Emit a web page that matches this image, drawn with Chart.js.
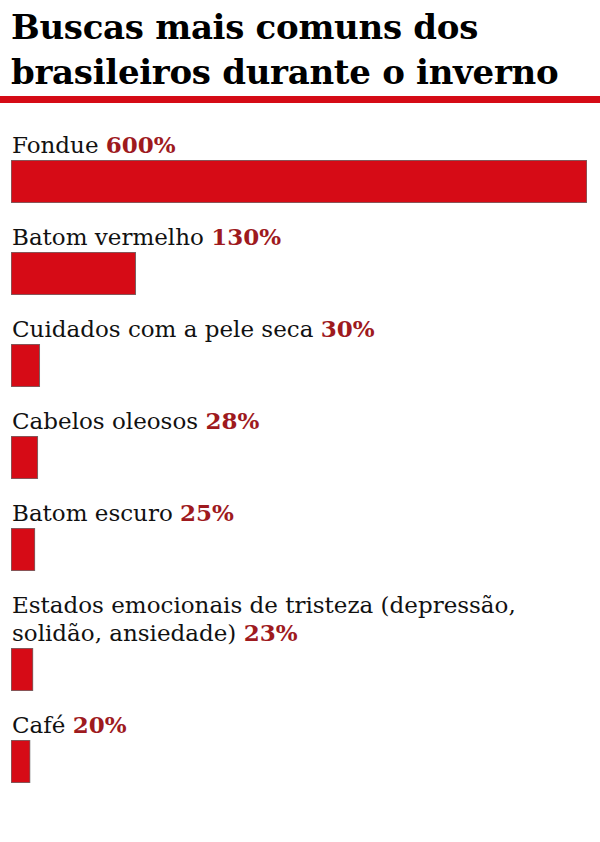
<!DOCTYPE html>
<html>
<head>
<meta charset="utf-8">
<script src="https://cdn.jsdelivr.net/npm/chart.js@4"></script>
<style>
  body { margin: 0; width: 600px; height: 842px; background: #fff; overflow: hidden; font-family: "DejaVu Serif", serif; }
  h1 { margin: 0; padding: 5px 0 0 11px; font-size: 34px; line-height: 45px; font-weight: bold; color: #000; letter-spacing: -0.3px; }
  .rule { position: absolute; left: 0; top: 96px; width: 600px; height: 7px; background: #d50b16; }
  #rows { position: absolute; left: 0; top: 111px; width: 600px; }
  .label { margin: 20px 0 1px 12px; width: 580px; font-size: 23px; line-height: 28px; color: #111; }
  .label b { color: #9e1a1e; }
  .bar { position: relative; margin-left: 11px; width: 576px; height: 43px; }
</style>
</head>
<body>
<h1>Buscas mais comuns dos brasileiros durante o inverno</h1>
<div class="rule"></div>
<div id="rows"></div>
<script>
// --- data ---
const categories = ['Fondue', 'Batom vermelho', 'Cuidados com a pele seca', 'Cabelos oleosos', 'Batom escuro',
    'Estados emocionais de tristeza (depressão, solidão, ansiedade)', 'Café'];
const values = [600, 130, 30, 28, 25, 23, 20];
const axisMax = 600;

const rowsEl = document.getElementById('rows');

categories.forEach((name, i) => {
    const label = document.createElement('div');
    label.className = 'label';
    label.innerHTML = `${name} <b>${values[i]}%</b>`;
    rowsEl.appendChild(label);

    const wrap = document.createElement('div');
    wrap.className = 'bar';
    const canvas = document.createElement('canvas');
    wrap.appendChild(canvas);
    rowsEl.appendChild(wrap);

    new Chart(canvas.getContext('2d'), {
        type: 'bar',
        data: {
            labels: [name],
            datasets: [{
                data: [values[i]],
                backgroundColor: '#d60b16',
                borderColor: '#6e6e6e',
                borderWidth: 1,
                borderSkipped: false,
                barPercentage: 1,
                categoryPercentage: 1
            }]
        },
        options: {
            indexAxis: 'y',
            responsive: true,
            maintainAspectRatio: false,
            animation: false,
            layout: { padding: 0 },
            scales: {
                x: { min: 0, max: axisMax, display: false },
                y: { display: false }
            },
            plugins: { legend: { display: false }, tooltip: { enabled: false } }
        }
    });
});
</script>
</body>
</html>
